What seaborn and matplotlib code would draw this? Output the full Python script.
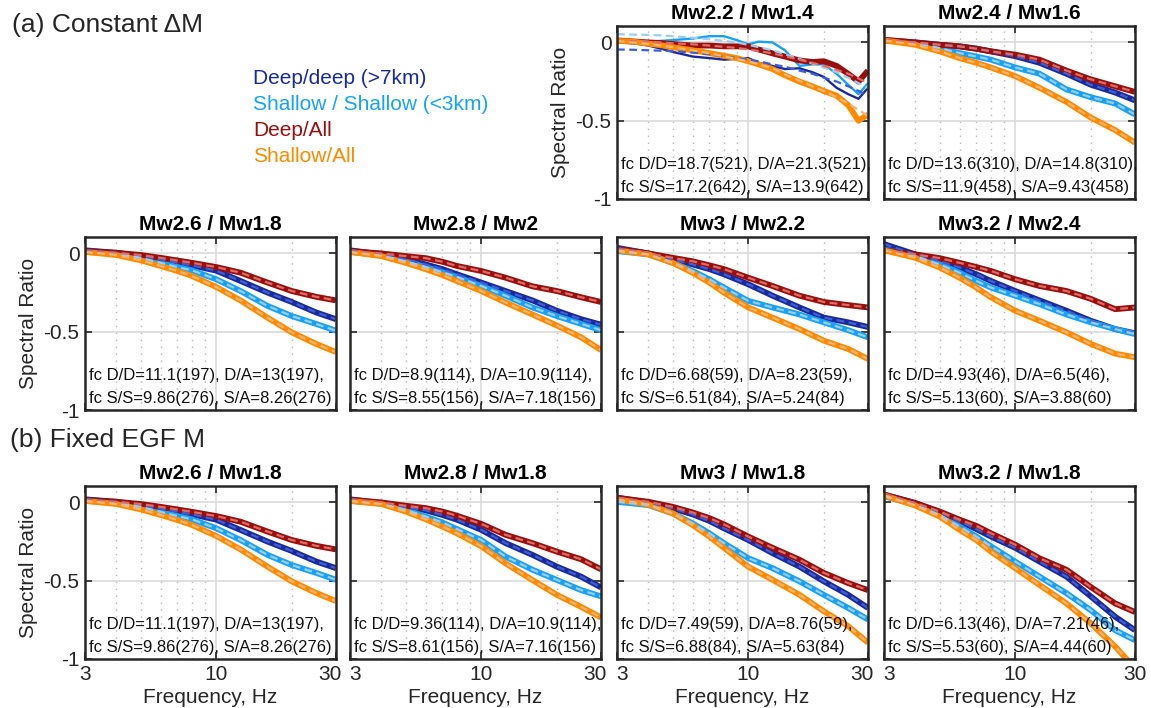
import matplotlib
matplotlib.use("Agg")
import matplotlib.pyplot as plt
import matplotlib.transforms as mtransforms
from matplotlib.ticker import FixedLocator, NullFormatter
import seaborn as sns
import pandas as pd

sns.set_style("ticks")
plt.rcParams['font.family'] = ['Liberation Sans', 'DejaVu Sans']
plt.rcParams['axes.unicode_minus'] = False

# ---------------- data ----------------
SERIES = ["Deep/deep (>7km)", "Shallow / Shallow (<3km)", "Deep/All", "Shallow/All"]
COLORS = ["#1b2a9a", "#17a2f7", "#990e0e", "#ff8a00"]
MODEL_COLORS = ["#3f5fd8", "#9ccdf2", "#dd6e66", "#f2b676"]

FREQ_FINE = [3, 3.5, 4, 4.5, 5, 6, 7, 8, 9, 10, 11, 12.5, 14, 16, 18, 20, 22.5, 25, 27.5, 30]
FREQ = [3, 4, 5, 6, 7, 8, 10, 12.5, 16, 20, 25, 30]

# (a) Mw2.2 / Mw1.4  (fine frequency grid)
A1_DD = [0.0, -0.005, -0.02, -0.04, -0.06, -0.09, -0.1, -0.11, -0.105, -0.1, -0.13, -0.15, -0.17, -0.165, -0.19, -0.22, -0.29, -0.33, -0.36, -0.29]
A1_SS = [0.01, 0.01, 0.005, 0.01, 0.015, 0.025, 0.04, 0.04, 0.015, -0.012, 0.005, 0.0, -0.05, -0.15, -0.14, -0.14, -0.2, -0.27, -0.33, -0.26]
A1_DA = [0.013, 0.006, 0.0, -0.004, -0.01, -0.02, -0.02, -0.025, -0.025, -0.025, -0.045, -0.07, -0.09, -0.115, -0.125, -0.12, -0.15, -0.2, -0.25, -0.18]
A1_SA = [0.01, 0.005, -0.008, -0.018, -0.03, -0.05, -0.068, -0.085, -0.1, -0.12, -0.14, -0.17, -0.21, -0.25, -0.28, -0.31, -0.34, -0.4, -0.5, -0.46]
A1_DD_FIT = [-0.045, -0.047, -0.05, -0.053, -0.056, -0.065, -0.075, -0.088, -0.1, -0.11, -0.12, -0.14, -0.155, -0.18, -0.2, -0.225, -0.25, -0.28, -0.31, -0.34]
A1_SS_FIT = [0.053, 0.05, 0.048, 0.045, 0.04, 0.03, 0.02, 0.01, 0.0, -0.015, -0.03, -0.05, -0.075, -0.105, -0.135, -0.16, -0.19, -0.225, -0.26, -0.29]
A1_DA_FIT = [0.01, 0.008, 0.005, 0.0, -0.005, -0.012, -0.02, -0.028, -0.035, -0.045, -0.055, -0.07, -0.088, -0.11, -0.13, -0.15, -0.175, -0.2, -0.23, -0.26]
A1_SA_FIT = [0.01, 0.0, -0.01, -0.02, -0.03, -0.05, -0.07, -0.088, -0.105, -0.12, -0.14, -0.165, -0.205, -0.245, -0.28, -0.31, -0.35, -0.39, -0.43, -0.47]

# (a) Mw2.4 / Mw1.6
A2_DD = [0.015, 0.0, -0.015, -0.025, -0.04, -0.057, -0.088, -0.13, -0.2, -0.27, -0.32, -0.37]
A2_SS = [0.013, -0.004, -0.036, -0.068, -0.09, -0.11, -0.16, -0.2, -0.3, -0.35, -0.39, -0.46]
A2_DA = [0.017, 0.0, -0.015, -0.025, -0.04, -0.057, -0.078, -0.11, -0.18, -0.236, -0.28, -0.316]
A2_SA = [0.013, -0.015, -0.057, -0.1, -0.13, -0.16, -0.215, -0.29, -0.38, -0.48, -0.56, -0.64]

# Mw2.6 / Mw1.8 (same in (a) and (b))
B1_DD = [0.02, 0.004, -0.017, -0.038, -0.06, -0.076, -0.11, -0.176, -0.25, -0.31, -0.377, -0.42]
B1_SS = [0.01, -0.002, -0.028, -0.06, -0.087, -0.108, -0.165, -0.24, -0.335, -0.4, -0.45, -0.494]
B1_DA = [0.015, 0.004, -0.01, -0.028, -0.045, -0.06, -0.087, -0.123, -0.186, -0.24, -0.277, -0.3]
B1_SA = [0.01, -0.01, -0.044, -0.08, -0.112, -0.144, -0.214, -0.3, -0.41, -0.504, -0.578, -0.63]

# (a) Mw2.8 / Mw2
B2_DD = [0.02, -0.006, -0.038, -0.07, -0.1, -0.133, -0.186, -0.24, -0.3, -0.366, -0.42, -0.455]
B2_SS = [0.01, -0.013, -0.05, -0.087, -0.12, -0.15, -0.208, -0.27, -0.345, -0.4, -0.45, -0.49]
B2_DA = [0.015, 0.0, -0.017, -0.03, -0.053, -0.08, -0.112, -0.155, -0.21, -0.24, -0.28, -0.31]
B2_SA = [0.01, -0.017, -0.06, -0.1, -0.138, -0.176, -0.24, -0.313, -0.39, -0.46, -0.536, -0.617]

# (a) Mw3 / Mw2.2
B3_DD = [0.036, 0.0, -0.038, -0.07, -0.1, -0.133, -0.197, -0.27, -0.345, -0.41, -0.44, -0.47]
B3_SS = [0.015, -0.006, -0.06, -0.112, -0.165, -0.218, -0.303, -0.345, -0.39, -0.44, -0.49, -0.536]
B3_DA = [0.03, 0.0, -0.028, -0.05, -0.076, -0.1, -0.155, -0.208, -0.27, -0.31, -0.33, -0.345]
B3_SA = [0.02, -0.006, -0.06, -0.123, -0.186, -0.25, -0.345, -0.41, -0.483, -0.557, -0.61, -0.674]

# (a) Mw3.2 / Mw2.4
B4_DD = [0.06, -0.006, -0.05, -0.09, -0.133, -0.176, -0.24, -0.3, -0.366, -0.43, -0.483, -0.51]
B4_SS = [0.025, -0.017, -0.07, -0.123, -0.176, -0.218, -0.27, -0.324, -0.39, -0.44, -0.483, -0.515]
B4_DA = [0.02, -0.006, -0.03, -0.06, -0.087, -0.112, -0.165, -0.208, -0.24, -0.29, -0.356, -0.345]
B4_SA = [0.02, -0.028, -0.09, -0.155, -0.218, -0.28, -0.366, -0.43, -0.504, -0.578, -0.64, -0.663]

# (b) Mw2.8 / Mw1.8
C2_DD = [0.02, -0.004, -0.03, -0.05, -0.08, -0.11, -0.175, -0.26, -0.335, -0.41, -0.474, -0.543]
C2_SS = [0.01, -0.008, -0.047, -0.09, -0.128, -0.17, -0.24, -0.346, -0.43, -0.495, -0.56, -0.6]
C2_DA = [0.017, 0.0, -0.021, -0.036, -0.058, -0.085, -0.137, -0.207, -0.26, -0.314, -0.363, -0.427]
C2_SA = [0.01, -0.01, -0.058, -0.107, -0.154, -0.197, -0.28, -0.389, -0.496, -0.59, -0.667, -0.735]

# (b) Mw3 / Mw1.8
C3_DD = [0.03, 0.0, -0.038, -0.076, -0.118, -0.165, -0.24, -0.324, -0.41, -0.504, -0.59, -0.674]
C3_SS = [0.004, -0.017, -0.07, -0.133, -0.197, -0.26, -0.356, -0.42, -0.504, -0.59, -0.674, -0.748]
C3_DA = [0.03, 0.004, -0.028, -0.064, -0.1, -0.14, -0.218, -0.29, -0.366, -0.45, -0.515, -0.56]
C3_SA = [0.02, -0.013, -0.07, -0.144, -0.218, -0.29, -0.41, -0.494, -0.59, -0.695, -0.79, -0.896]

# (b) Mw3.2 / Mw1.8
C4_DD = [0.05, -0.004, -0.064, -0.12, -0.17, -0.218, -0.29, -0.378, -0.474, -0.6, -0.73, -0.816]
C4_SS = [0.04, -0.015, -0.08, -0.154, -0.218, -0.28, -0.378, -0.474, -0.58, -0.688, -0.816, -0.88]
C4_DA = [0.05, -0.004, -0.058, -0.11, -0.15, -0.197, -0.27, -0.357, -0.43, -0.54, -0.645, -0.7]
C4_SA = [0.045, -0.02, -0.09, -0.175, -0.24, -0.314, -0.42, -0.527, -0.645, -0.773, -0.92, -1.06]

TITLES = ["Mw2.2 / Mw1.4", "Mw2.4 / Mw1.6",
          "Mw2.6 / Mw1.8", "Mw2.8 / Mw2", "Mw3 / Mw2.2", "Mw3.2 / Mw2.4",
          "Mw2.6 / Mw1.8", "Mw2.8 / Mw1.8", "Mw3 / Mw1.8", "Mw3.2 / Mw1.8"]
FC_TEXT = [
    ("fc D/D=18.7(521), D/A=21.3(521),", "fc S/S=17.2(642), S/A=13.9(642)"),
    ("fc D/D=13.6(310), D/A=14.8(310),", "fc S/S=11.9(458), S/A=9.43(458)"),
    ("fc D/D=11.1(197), D/A=13(197),", "fc S/S=9.86(276), S/A=8.26(276)"),
    ("fc D/D=8.9(114), D/A=10.9(114),", "fc S/S=8.55(156), S/A=7.18(156)"),
    ("fc D/D=6.68(59), D/A=8.23(59),", "fc S/S=6.51(84), S/A=5.24(84)"),
    ("fc D/D=4.93(46), D/A=6.5(46),", "fc S/S=5.13(60), S/A=3.88(60)"),
    ("fc D/D=11.1(197), D/A=13(197),", "fc S/S=9.86(276), S/A=8.26(276)"),
    ("fc D/D=9.36(114), D/A=10.9(114),", "fc S/S=8.61(156), S/A=7.16(156)"),
    ("fc D/D=7.49(59), D/A=8.76(59),", "fc S/S=6.88(84), S/A=5.63(84)"),
    ("fc D/D=6.13(46), D/A=7.21(46),", "fc S/S=5.53(60), S/A=4.44(60)"),
]
X_TICKS = [3, 10, 30]
X_TICK_LABELS = ["3", "10", "30"]
X_MINOR = [4, 5, 6, 7, 8, 9, 20]
Y_TICKS = [-1, -0.5, 0]
Y_TICK_LABELS = ["-1", "-0.5", "0"]

# ---------------- figure ----------------
W, H = 1151, 708
fig = plt.figure(figsize=(W / 100, H / 100), dpi=100)

LEFTS = [85, 350, 617, 884]
AW = 251
TOPS = [26, 237, 486]
AH = 173

panels = [
    # row, col, freq, data, fits
    (0, 2, FREQ_FINE, [A1_DD, A1_SS, A1_DA, A1_SA], [A1_DD_FIT, A1_SS_FIT, A1_DA_FIT, A1_SA_FIT]),
    (0, 3, FREQ, [A2_DD, A2_SS, A2_DA, A2_SA], None),
    (1, 0, FREQ, [B1_DD, B1_SS, B1_DA, B1_SA], None),
    (1, 1, FREQ, [B2_DD, B2_SS, B2_DA, B2_SA], None),
    (1, 2, FREQ, [B3_DD, B3_SS, B3_DA, B3_SA], None),
    (1, 3, FREQ, [B4_DD, B4_SS, B4_DA, B4_SA], None),
    (2, 0, FREQ, [B1_DD, B1_SS, B1_DA, B1_SA], None),
    (2, 1, FREQ, [C2_DD, C2_SS, C2_DA, C2_SA], None),
    (2, 2, FREQ, [C3_DD, C3_SS, C3_DA, C3_SA], None),
    (2, 3, FREQ, [C4_DD, C4_SS, C4_DA, C4_SA], None),
]

for i, (row, col, freq, data, fits) in enumerate(panels):
    left = LEFTS[col] / W
    bottom = 1 - (TOPS[row] + AH) / H
    ax = fig.add_axes([left, bottom, AW / W, AH / H])
    ax.set_xscale('log')

    # grids
    for xv in X_MINOR:
        ax.axvline(xv, color='#b5b5b5', lw=1.0, ls=(0, (1, 4)), zorder=0)
    ax.axvline(10, color='#dadada', lw=1.2, zorder=0)
    for yv in [0, -0.5]:
        ax.axhline(yv, color='#dadada', lw=1.2, zorder=0)

    thin = (i == 0)
    for k in range(4):
        lw = 1.7 if (thin and k < 2) else 4.2
        df = pd.DataFrame({"freq": freq, "ratio": data[k]})
        sns.lineplot(data=df, x="freq", y="ratio", ax=ax, color=COLORS[k], lw=lw,
                     sort=False, legend=False, solid_capstyle='butt', zorder=2 + k * 0.1)
    for k in range(4):
        yv = fits[k] if fits is not None else data[k]
        df = pd.DataFrame({"freq": freq, "ratio": yv})
        sns.lineplot(data=df, x="freq", y="ratio", ax=ax, color=MODEL_COLORS[k], lw=1.6,
                     linestyle=(0, (3.5, 2)), sort=False, legend=False, zorder=3 + k * 0.1)

    ax.set_xscale('log')
    ax.set_xlim(3, 30)
    ax.set_ylim(-1, 0.105)
    ax.xaxis.set_major_locator(FixedLocator(X_TICKS))
    ax.xaxis.set_minor_locator(FixedLocator(X_MINOR))
    ax.xaxis.set_minor_formatter(NullFormatter())
    ax.set_yticks(Y_TICKS)
    ax.tick_params(axis='both', which='major', direction='in', length=5, width=1.2,
                   top=True, right=True, labelsize=15, colors='#262626', pad=4)
    ax.tick_params(axis='x', which='minor', length=0)
    if row == 2:
        ax.set_xticklabels(X_TICK_LABELS)
        ax.set_xlabel("Frequency, Hz", fontsize=15, color='#262626', labelpad=3)
        labs = ax.get_xticklabels()
        if col > 0:
            labs[0].set_transform(labs[0].get_transform() +
                                  mtransforms.ScaledTranslation(5 / 100, 0, fig.dpi_scale_trans))
        if col < 3:
            labs[2].set_transform(labs[2].get_transform() +
                                  mtransforms.ScaledTranslation(-6 / 100, 0, fig.dpi_scale_trans))
    else:
        ax.set_xticklabels([])
        ax.set_xlabel("")
    if (row == 0 and col == 2) or col == 0:
        ax.set_yticklabels(Y_TICK_LABELS)
        ax.set_ylabel("Spectral Ratio", fontsize=15, color='#262626', labelpad=4)
    else:
        ax.set_yticklabels([])
        ax.set_ylabel("")
    for sp in ax.spines.values():
        sp.set_linewidth(1.8)
        sp.set_color('#262626')
        sp.set_zorder(6)
    ax.set_title(TITLES[i], fontsize=15, fontweight='bold', color='black', pad=5)
    l1, l2 = FC_TEXT[i]
    ax.text(0.015, 0.20, l1, transform=ax.transAxes, fontsize=12, va='center', ha='left',
            color='#111111', zorder=10, clip_on=False)
    ax.text(0.015, 0.068, l2, transform=ax.transAxes, fontsize=12, va='center', ha='left',
            color='#111111', zorder=10, clip_on=False)

# section labels
fig.text(12 / W, 1 - 25 / H, "(a) Constant \u0394M", fontsize=19, va='center', ha='left')
fig.text(10 / W, 1 - 440 / H, "(b) Fixed EGF M", fontsize=19, va='center', ha='left')

# legend (colored text)
for k, name in enumerate(SERIES):
    fig.text(253 / W, 1 - (79 + 26 * k) / H, name, color=COLORS[k], fontsize=15,
             va='center', ha='left')

fig.savefig("out.png", dpi=100)
